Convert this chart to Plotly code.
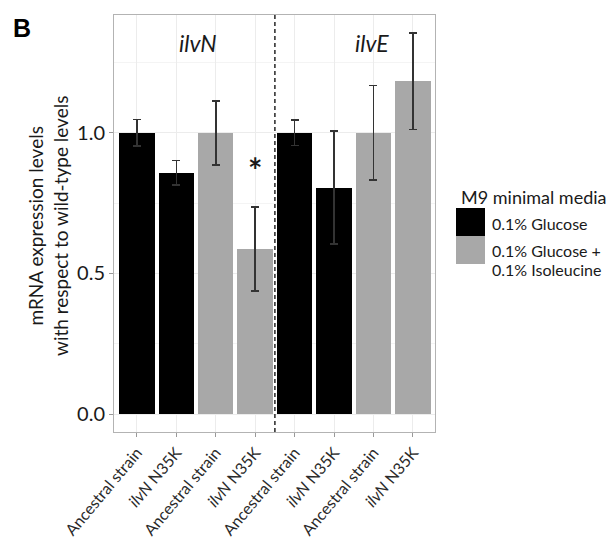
import plotly.graph_objects as go

# ---- data ----
genes = ["ilvN", "ilvE"]
strains = ["Ancestral strain", "<i>ilvN</i> N35K"]
media = ["0.1% Glucose", "0.1% Glucose +<br>0.1% Isoleucine"]
legend_title = "M9 minimal media"
# values ordered: [ilvN-Ancestral, ilvN-N35K, ilvE-Ancestral, ilvE-N35K]
glucose_mean = [1.0, 0.858, 1.0, 0.805]
glucose_err = [0.047, 0.043, 0.045, 0.201]
iso_mean = [1.0, 0.587, 1.0, 1.183]
iso_err = [0.114, 0.150, 0.168, 0.171]
means = [glucose_mean, iso_mean]
errs = [glucose_err, iso_err]
colors = ["#000000", "#a8a8a8"]
star_gene, star_media, star_strain, star_y = 0, 1, 1, 0.889

W, H = 613, 542
L, R, T, B = 114, 435, 15, 432


def px(xp):
    return (xp - L) / (R - L)


def py(yp):
    return (B - yp) / (B - T)


def pos(g, m, s):
    return g * 4 + m * 2 + s


fig = go.Figure()
tickvals, ticktext = [], []
for m in range(2):
    xs, ys, es = [], [], []
    for g in range(2):
        for s in range(2):
            xs.append(pos(g, m, s))
            ys.append(means[m][g * 2 + s])
            es.append(errs[m][g * 2 + s])
    fig.add_trace(go.Bar(
        x=xs, y=ys, width=0.9, marker=dict(color=colors[m], line=dict(width=0)),
        name=media[m], showlegend=False,
        error_y=dict(type="data", array=es, color="#333333", thickness=1.6, width=4),
    ))
for g in range(2):
    for m in range(2):
        for s in range(2):
            tickvals.append(pos(g, m, s))
            ticktext.append(strains[s])

font = "Lato, 'Open Sans', sans-serif"
fig.update_layout(
    width=W, height=H,
    margin=dict(l=L, r=W - R, t=T, b=H - B, pad=0, autoexpand=False),
    paper_bgcolor="white", plot_bgcolor="white",
    font=dict(family=font, color="#1a1a1a"),
    bargap=0,
    xaxis=dict(
        range=[-0.58, 7.56], tickvals=tickvals, ticktext=ticktext,
        tickangle=-50, tickfont=dict(size=16, color="#2a2a2a"), automargin=False,
        showgrid=True, gridcolor="#ececec", gridwidth=1,
        ticks="outside", ticklen=4, tickcolor="#999999",
        showline=True, mirror=True, linecolor="#b3b3b3", linewidth=1,
        zeroline=False,
    ),
    yaxis=dict(
        range=[-0.064, 1.419], tickvals=[0, 0.5, 1.0], ticktext=["0.0", "0.5", "1.0"],
        tickfont=dict(size=20, color="#1a1a1a"), automargin=False,
        showgrid=True, gridcolor="#ececec", gridwidth=1,
        minor=dict(tickvals=[0.25, 0.75, 1.25], showgrid=True, gridcolor="#f4f4f4", ticks=""),
        ticks="outside", ticklen=4, tickcolor="#999999",
        showline=True, mirror=True, linecolor="#b3b3b3", linewidth=1,
        zeroline=False,
    ),
)

# dashed separator between genes
fig.add_shape(type="line", xref="x", yref="paper", x0=3.5, x1=3.5, y0=0, y1=1,
              line=dict(color="#333333", width=1.6, dash="4px,3px"))

# gene labels
gene_x = [1.55, 5.95]
for g, name in enumerate(genes):
    fig.add_annotation(x=gene_x[g], y=1.319, xref="x", yref="y", text=f"<i>{name}</i>",
                       showarrow=False, font=dict(size=23, color="#1a1a1a"))

# significance star
fig.add_annotation(x=pos(star_gene, star_media, star_strain), y=star_y, xref="x", yref="y",
                   text="<b>*</b>", showarrow=False, yshift=-5,
                   font=dict(size=34, color="#1a1a1a"))

# y title
fig.add_annotation(x=px(48), y=py(226), xref="paper", yref="paper",
                   text="mRNA expression levels<br>with respect to wild-type levels",
                   textangle=-90, showarrow=False, font=dict(size=19, color="#1a1a1a"),
                   xanchor="center", yanchor="middle")

# panel label
fig.add_annotation(x=px(22), y=py(28), xref="paper", yref="paper", text="<b>B</b>",
                   showarrow=False, font=dict(size=25, color="#000000", family="Liberation Sans, Arial"),
                   xanchor="center", yanchor="middle")

# manual legend
fig.add_annotation(x=px(459), y=py(197), xref="paper", yref="paper", text=legend_title,
                   showarrow=False, xanchor="left", yanchor="middle",
                   font=dict(size=18, color="#1a1a1a"))
key_tops = [208, 236]
for m in range(2):
    fig.add_shape(type="rect", xref="paper", yref="paper",
                  x0=px(456), x1=px(485), y0=py(key_tops[m]), y1=py(key_tops[m] + 28),
                  fillcolor=colors[m], line=dict(width=0))
    lines = media[m].split("<br>")
    n = len(lines)
    cy = [223, 259.5][m]
    for i, ln in enumerate(lines):
        yy = cy + (i - (n - 1) / 2) * 19
        fig.add_annotation(x=px(490), y=py(yy), xref="paper", yref="paper", text=ln,
                           showarrow=False, xanchor="left", yanchor="middle",
                           font=dict(size=16, color="#1a1a1a"))

fig.write_html("out.html")
